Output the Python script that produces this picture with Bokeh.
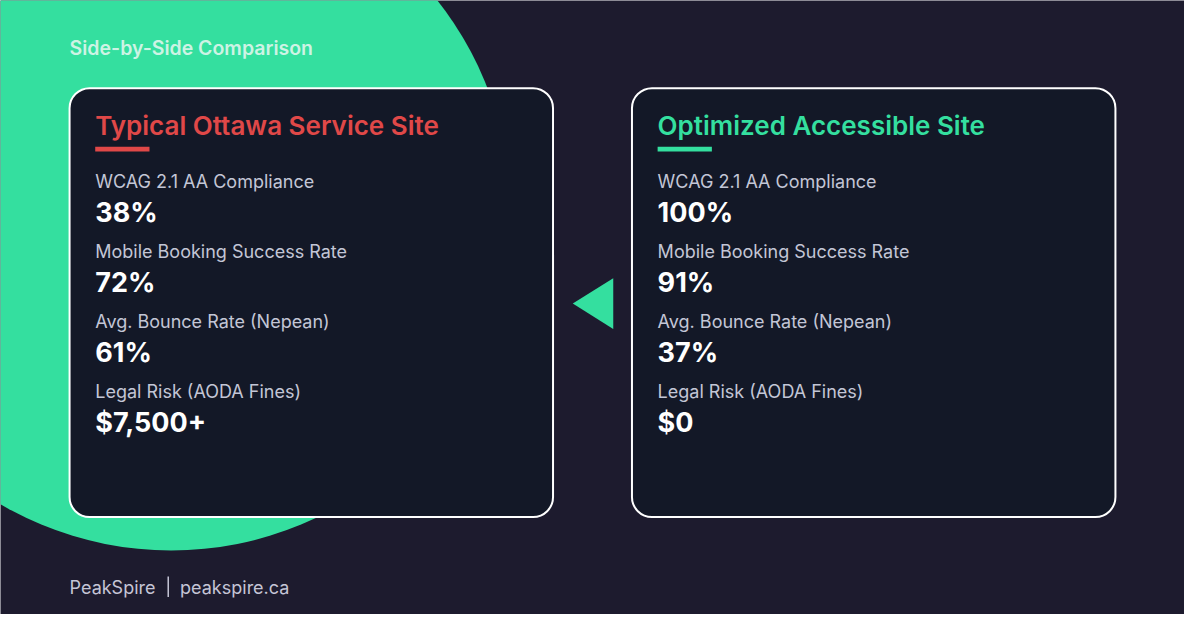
from bokeh.plotting import figure
from bokeh.models import Range1d
from bokeh.core.properties import value
from bokeh.embed import file_html
from bokeh.resources import INLINE

# data
heading = "Side-by-Side Comparison"
card_titles = ["Typical Ottawa Service Site", "Optimized Accessible Site"]
metrics = [
    "WCAG 2.1 AA Compliance",
    "Mobile Booking Success Rate",
    "Avg. Bounce Rate (Nepean)",
    "Legal Risk (AODA Fines)",
]
typical_values = ["38%", "72%", "61%", "$7,500+"]
optimized_values = ["100%", "91%", "37%", "$0"]
footer_brand = "PeakSpire"
footer_site = "peakspire.ca"

BG = "#1d1b2e"
CARD = "#131827"
GREEN = "#34df9f"
RED = "#e04848"
LABEL = "#c3c6d6"
FONT = value("Inter")
SEMI = value("'Inter SemiBold', Inter")

# whole 1200x630 frame mapped onto the plot area
p = figure(width=1184, height=614, output_backend="svg", toolbar_location=None,
           x_range=Range1d(0, 1200), y_range=Range1d(630, 0),
           min_border=0, background_fill_color=BG, border_fill_color=BG,
           outline_line_color=None)
p.axis.visible = False
p.grid.visible = False

# big decorative circle
p.circle(x=[173], y=[216], radius=344, fill_color=GREEN, line_color=None)

# cards
card_left = [70, 640]
card_w, card_top, card_bottom = 490, 90, 530
p.quad(left=card_left, right=[x + card_w for x in card_left],
       top=[card_top] * 2, bottom=[card_bottom] * 2,
       fill_color=CARD, line_color="white", line_width=2, border_radius=20)

# arrow between cards
p.patch(x=[580, 621, 621], y=[311, 285, 337], fill_color=GREEN, line_color=None)

p.text(x=[70], y=[49], text=[heading], text_font=SEMI, text_font_size="19.5px",
       text_color="#cdf3e4", text_baseline="middle")

title_colors = [RED, GREEN]
for i, (left, vals) in enumerate(zip(card_left, [typical_values, optimized_values])):
    x0 = left + 26
    p.text(x=[x0], y=[128], text=[card_titles[i]], text_font=SEMI,
           text_font_size="26px", text_color=title_colors[i], text_baseline="middle")
    p.quad(left=[x0], right=[x0 + 55], top=[150], bottom=[155],
           fill_color=title_colors[i], line_color=None)
    ys = [185.5 + 72 * k for k in range(len(metrics))]
    p.text(x=[x0] * len(metrics), y=ys, text=metrics, text_font=FONT,
           text_font_size="18px", text_color=LABEL, text_baseline="middle")
    p.text(x=[x0] * len(vals), y=[y + 32 for y in ys], text=vals, text_font=FONT,
           text_font_size="27px", text_font_style="bold", text_color="white",
           text_baseline="middle")

# footer
p.text(x=[70], y=[602], text=[footer_brand], text_font=FONT, text_font_size="18px",
       text_color="#c5c5d6", text_baseline="middle")
p.segment(x0=[170], y0=[591], x1=[170], y1=[612], line_color="#c5c5d6", line_width=1.5)
p.text(x=[182], y=[602], text=[footer_site], text_font=FONT, text_font_size="18px",
       text_color="#c5c5d6", text_baseline="middle")

open("out.html", "w").write(file_html(p, INLINE))
